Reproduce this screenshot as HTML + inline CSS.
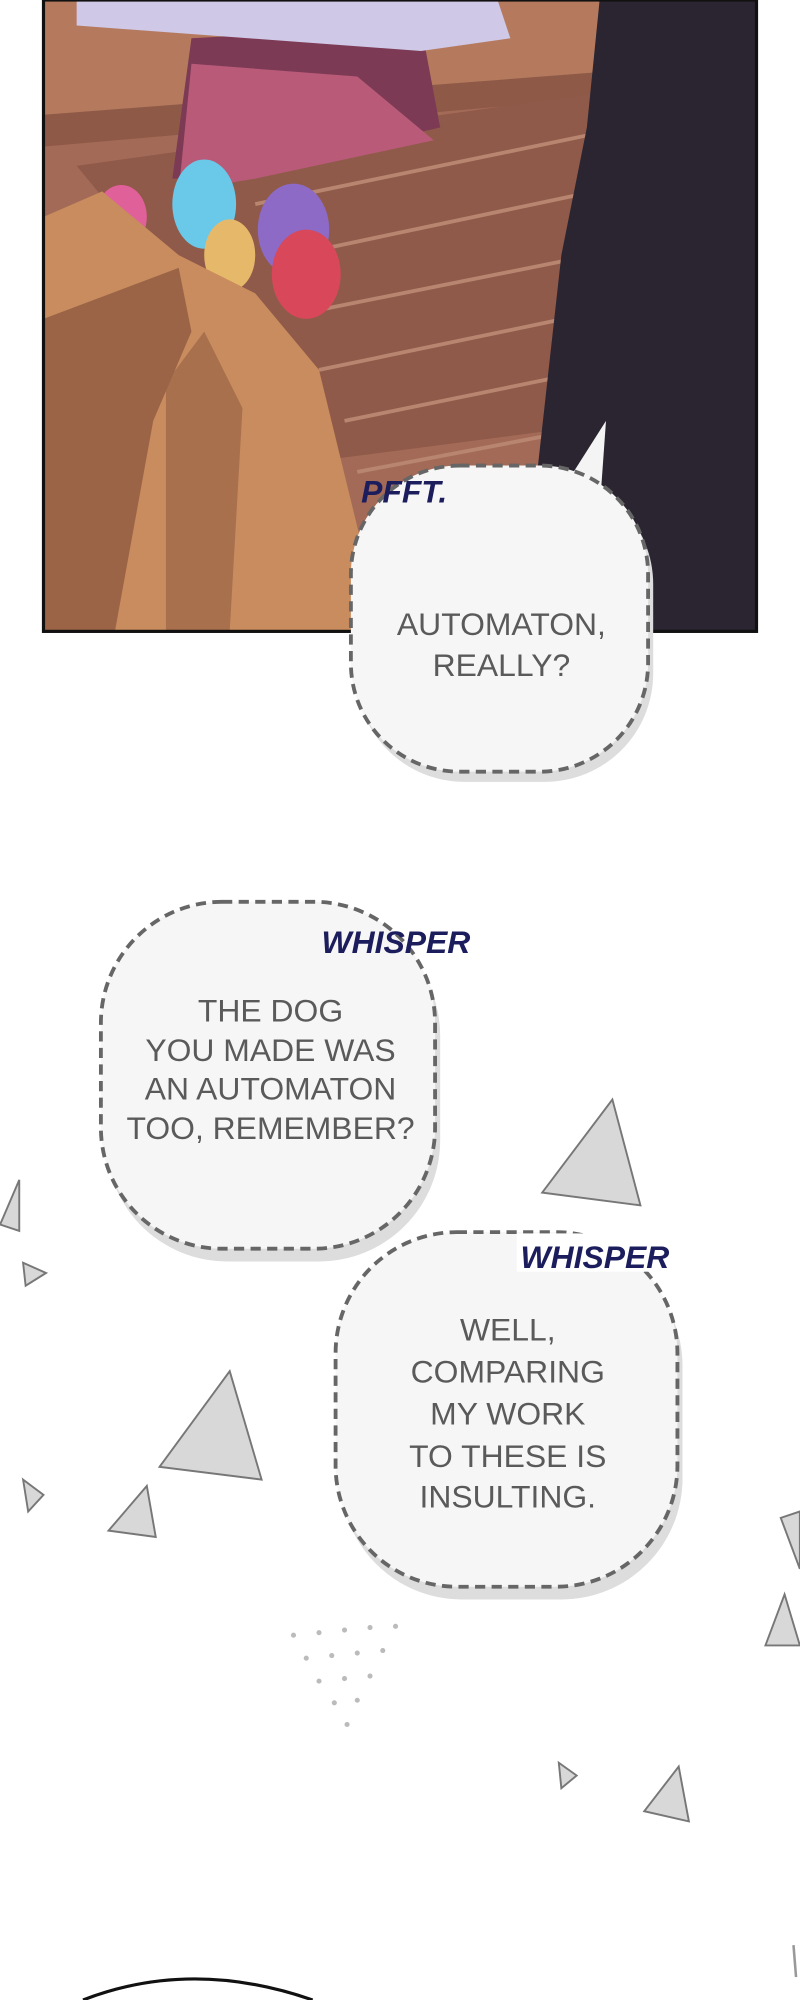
<!DOCTYPE html>
<html><head><meta charset="utf-8"><style>
html,body{margin:0;padding:0;background:#fff;width:800px;height:2000px;overflow:hidden}
svg{display:block}
.t{font-family:"Liberation Sans",sans-serif;fill:#5a5a5a;font-size:25px;text-anchor:middle}
.s{font-family:"Liberation Sans",sans-serif;fill:#1c1d5c;font-style:italic;font-weight:bold;font-size:25px}
</style></head><body>
<svg width="800" height="2000" viewBox="0 0 627 1568" xmlns="http://www.w3.org/2000/svg">
<rect width="627" height="1568" fill="#fff"/>
<g>
<rect x="34" y="0" width="559" height="495" fill="#a36b57"/>
<polygon points="34,0 470,0 470,60 34,100" fill="#b57a5e"/>
<polygon points="34,90 490,55 490,75 34,115" fill="#8e5a47"/>
<polygon points="60,130 490,70 490,330 260,360 200,300" fill="#8f5a49"/>
<g stroke="#b88570" stroke-width="3">
<line x1="200" y1="160" x2="490" y2="100"/><line x1="230" y1="200" x2="490" y2="145"/>
<line x1="240" y1="245" x2="490" y2="195"/><line x1="250" y1="290" x2="490" y2="240"/>
<line x1="270" y1="330" x2="490" y2="285"/><line x1="280" y1="370" x2="490" y2="330"/>
</g>
<polygon points="150,30 330,20 345,100 170,140 135,140" fill="#7d3a55"/>
<polygon points="150,50 280,60 340,110 200,140 140,150" fill="#b95a79"/>
<polygon points="60,0 390,0 400,30 330,40 60,20" fill="#cfc8e6"/>
<ellipse cx="95" cy="170" rx="20" ry="25" fill="#e0609a"/>
<ellipse cx="160" cy="160" rx="25" ry="35" fill="#6ac8e8"/>
<ellipse cx="180" cy="200" rx="20" ry="28" fill="#e6b86a"/>
<ellipse cx="230" cy="180" rx="28" ry="36" fill="#8c6ac6"/>
<ellipse cx="240" cy="215" rx="27" ry="35" fill="#d8485a"/>
<polygon points="34,170 80,150 140,200 200,230 250,290 300,495 34,495" fill="#c88c5e"/>
<polygon points="34,250 140,210 150,260 120,330 90,495 34,495" fill="#9b6446"/>
<polygon points="130,300 160,260 190,320 180,495 130,495" fill="#9b6446" opacity=".7"/>
<polygon points="470,0 593,0 593,495 425,495 420,380 440,200 460,100" fill="#2a2530"/>
<rect x="34" y="0" width="559" height="495" fill="none" stroke="#111" stroke-width="2.5"/>
</g>
<!-- bubble 1 -->
<polygon points="440,385 475,330 470,400" fill="#f4f4f4"/>
<rect x="279" y="373" width="233" height="240" rx="85" ry="85" fill="#ddd"/>
<rect x="275" y="365" width="233" height="240" rx="85" ry="85" fill="#f6f6f6" stroke="#666" stroke-width="3" stroke-dasharray="8,5"/>
<text class="t" x="393" y="498">AUTOMATON,</text>
<text class="t" x="393" y="530">REALLY?</text>
<text class="s" x="283" y="394">PFFT.</text>
<!-- bubble 2 -->
<rect x="83" y="717" width="262" height="272" rx="95" ry="95" fill="#ddd"/>
<rect x="79" y="707" width="262" height="272" rx="95" ry="95" fill="#f6f6f6" stroke="#666" stroke-width="3" stroke-dasharray="8,5"/>
<text class="t" x="212" y="801">THE DOG</text>
<text class="t" x="212" y="832">YOU MADE WAS</text>
<text class="t" x="212" y="862">AN AUTOMATON</text>
<text class="t" x="212" y="893">TOO, REMEMBER?</text>
<text class="s" x="252" y="747">WHISPER</text>
<!-- bubble 3 -->
<rect x="267" y="976" width="268" height="278" rx="95" ry="95" fill="#ddd"/>
<rect x="263" y="966" width="268" height="278" rx="95" ry="95" fill="#f6f6f6" stroke="#666" stroke-width="3" stroke-dasharray="8,5"/>
<text class="t" x="398" y="1051">WELL,</text>
<text class="t" x="398" y="1084">COMPARING</text>
<text class="t" x="398" y="1117">MY WORK</text>
<text class="t" x="398" y="1150">TO THESE IS</text>
<text class="t" x="398" y="1182">INSULTING.</text>
<rect x="405" y="967" width="130" height="30" fill="#fff"/>
<text class="s" x="408" y="994">WHISPER</text>
<g fill="#d8d8d8" stroke="#777" stroke-width="1.5">
<polygon points="425,935 480,862 502,945"/>
<polygon points="125,1150 180,1075 205,1160"/>
<polygon points="85,1200 115,1165 122,1205"/>
<polygon points="505,1420 532,1385 540,1428"/>
<polygon points="0,960 15,925 15,965"/>
<polygon points="600,1290 615,1250 627,1290"/>
<polygon points="18,990 36,998 20,1008"/>
<polygon points="18,1160 34,1172 22,1185"/>
<polygon points="438,1382 452,1392 440,1402"/>
<polygon points="612,1190 627,1185 627,1230"/>
</g>
<g fill="#bbb">
<circle cx="230" cy="1282" r="2"/><circle cx="250" cy="1280" r="2"/><circle cx="270" cy="1278" r="2"/><circle cx="290" cy="1276" r="2"/><circle cx="310" cy="1275" r="2"/>
<circle cx="240" cy="1300" r="2"/><circle cx="260" cy="1298" r="2"/><circle cx="280" cy="1296" r="2"/><circle cx="300" cy="1294" r="2"/>
<circle cx="250" cy="1318" r="2"/><circle cx="270" cy="1316" r="2"/><circle cx="290" cy="1314" r="2"/>
<circle cx="262" cy="1335" r="2"/><circle cx="280" cy="1333" r="2"/><circle cx="272" cy="1352" r="2"/>
</g>
<path d="M65,1568 Q150,1535 245,1568" fill="#fff" stroke="#111" stroke-width="2.5"/>
<line x1="622" y1="1525" x2="624" y2="1550" stroke="#999" stroke-width="2"/>
</svg>
</body></html>
